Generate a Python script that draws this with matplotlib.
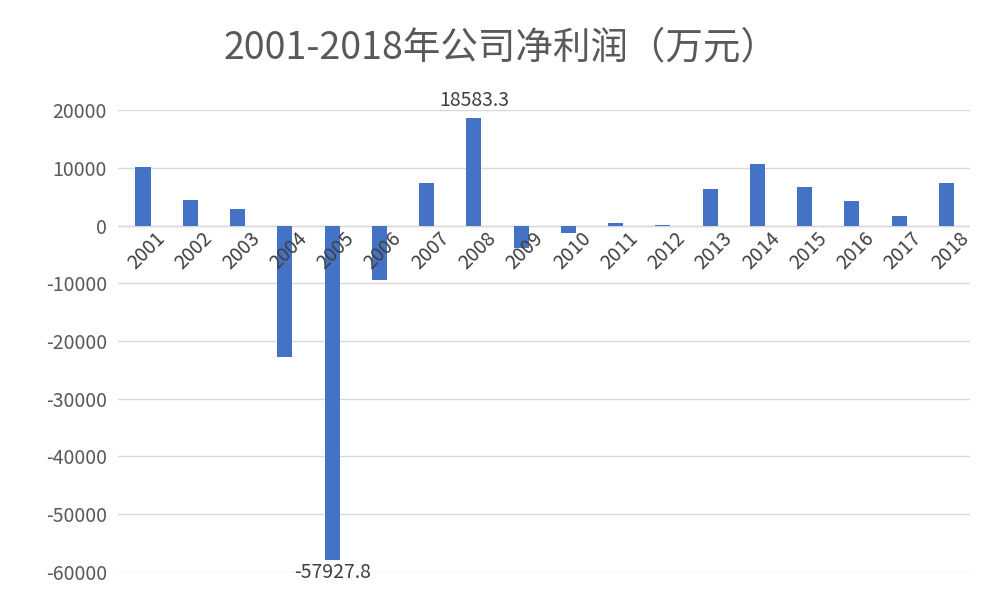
import matplotlib.pyplot as plt

plt.rcParams['font.family'] = ['Noto Sans CJK SC', 'DejaVu Sans']

years = ['2001', '2002', '2003', '2004', '2005', '2006', '2007', '2008', '2009',
         '2010', '2011', '2012', '2013', '2014', '2015', '2016', '2017', '2018']
profit = [10100, 4500, 2900, -22700, -57927.8, -9500, 7400, 18583.3, -3800,
          -1200, 500, 100, 6400, 10700, 6700, 4300, 1600, 7400]
yticks = [20000, 10000, 0, -10000, -20000, -30000, -40000, -50000, -60000]

fig = plt.figure(figsize=(10.02, 6.02), dpi=100)
ax = fig.add_axes([118 / 1002, 0.05, (970 - 118) / 1002, 0.767])
x = list(range(len(years)))
ax.bar(x, profit, width=0.32, color='#4472C4', zorder=3)

ax.set_xlim(-0.53, 17.5)
ax.set_ylim(-60000, 20000)
ax.set_yticks(yticks)
ax.set_yticklabels([str(v) for v in yticks], fontsize=14, color='#595959')
ax.tick_params(axis='y', length=0, pad=8)
ax.set_xticks([])
ax.grid(axis='y', color='#d9d9d9', linewidth=1, zorder=0)
for s in ax.spines.values():
    s.set_visible(False)
ax.axhline(0, color='#d9d9d9', linewidth=1, zorder=2)

for xi, label in zip(x, years):
    ax.text(xi + 0.25, -400, label, rotation=45, ha='right', va='top',
            rotation_mode='anchor', fontsize=14, color='#404040', zorder=4)

ax.text(7, 19800, '18583.3', ha='center', va='bottom', fontsize=14, color='#404040')
ax.text(4, -58300, '-57927.8', ha='center', va='top', fontsize=14, color='#404040')

fig.text(0.5, 0.92, '2001-2018年公司净利润（万元）', ha='center', va='center',
         fontsize=27, color='#595959')

fig.savefig('out.png', dpi=100)
